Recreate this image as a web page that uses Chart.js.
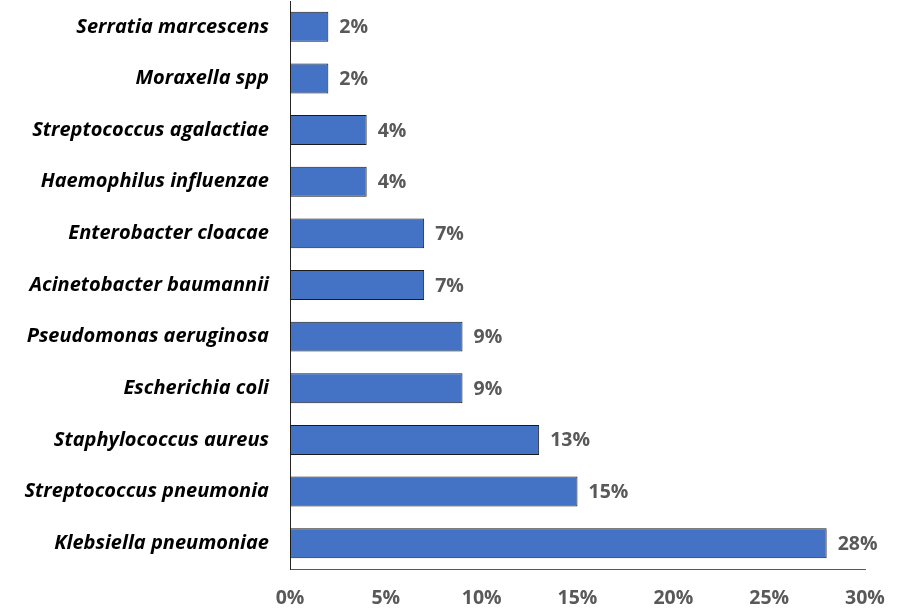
<!DOCTYPE html>
<html>
<head>
<meta charset="utf-8">
<script src="https://cdn.jsdelivr.net/npm/chart.js@4"></script>
<style>
  html, body { margin: 0; padding: 0; background: #fff; }
  #wrap { width: 897px; height: 616px; position: relative; }
</style>
</head>
<body>
<div id="wrap"><canvas id="chart"></canvas></div>
<script>
// Organisms, top to bottom as in the picture
const organisms = [
    'Serratia marcescens',
    'Moraxella spp',
    'Streptococcus agalactiae',
    'Haemophilus influenzae',
    'Enterobacter cloacae',
    'Acinetobacter baumannii',
    'Pseudomonas aeruginosa',
    'Escherichia coli',
    'Staphylococcus aureus',
    'Streptococcus pneumonia',
    'Klebsiella pneumoniae'
];
// share of isolates, percent
const shares = [2, 2, 4, 4, 7, 7, 9, 9, 13, 15, 28];
const xTicks = [0, 5, 10, 15, 20, 25, 30];

const FONT = '"Open Sans", Lato, sans-serif';

// value labels just past the end of each bar
const barLabels = {
    id: 'barLabels',
    afterDatasetsDraw(chart) {
        const ctx = chart.ctx;
        const meta = chart.getDatasetMeta(0);
        ctx.save();
        ctx.font = 'bold 19.5px ' + FONT;
        ctx.fillStyle = '#595959';
        ctx.textAlign = 'left';
        ctx.textBaseline = 'middle';
        meta.data.forEach((bar, i) => {
            ctx.fillText(shares[i] + '%', bar.x + 11, bar.y + 1);
        });
        ctx.restore();
    }
};

new Chart(document.getElementById('chart'), {
    type: 'bar',
    data: {
        labels: organisms,
        datasets: [{
            data: shares,
            backgroundColor: '#4472C4',
            borderColor: '#1a1a1a',
            borderWidth: 1,
            borderSkipped: false,
            barPercentage: 0.58,
            categoryPercentage: 1
        }]
    },
    options: {
        indexAxis: 'y',
        responsive: true,
        maintainAspectRatio: false,
        animation: false,
        layout: { padding: { top: 1, right: 32, left: 0, bottom: 0 } },
        plugins: {
            legend: { display: false },
            tooltip: { enabled: false }
        },
        scales: {
            x: {
                min: 0,
                max: 30,
                afterBuildTicks(scale) {
                    scale.ticks = xTicks.map(v => ({ value: v }));
                },
                afterFit(scale) {
                    scale.height = 47;
                    scale.paddingLeft = 0;
                    scale.paddingRight = 0;
                },
                grid: { display: false, drawTicks: false },
                border: { display: true, color: '#595959', width: 1 },
                ticks: {
                    padding: 18,
                    color: '#595959',
                    font: { family: FONT, size: 19.5, weight: 'bold' },
                    callback: v => v + '%'
                }
            },
            y: {
                afterFit(scale) {
                    scale.width = 290;
                    scale.paddingTop = 0;
                    scale.paddingBottom = 0;
                },
                grid: { display: false, drawTicks: false },
                border: { display: true, color: '#262626', width: 1 },
                ticks: {
                    padding: 21,
                    color: '#000',
                    font: { family: FONT, size: 20, weight: 'bold', style: 'italic' }
                }
            }
        }
    },
    plugins: [barLabels]
});
</script>
</body>
</html>
